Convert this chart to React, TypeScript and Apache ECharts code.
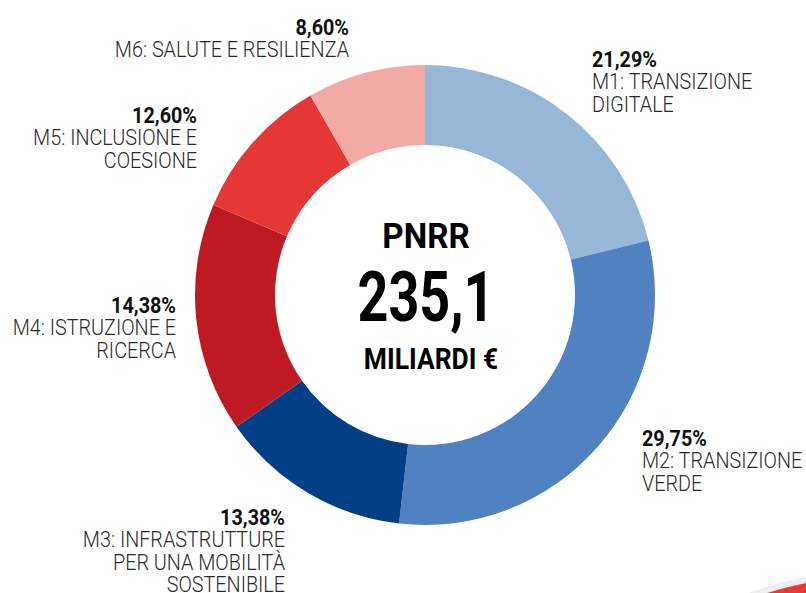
import React, { useEffect, useRef } from "react";
import * as echarts from "echarts";

const missionNames = [
  "M1: TRANSIZIONE\nDIGITALE",
  "M2: TRANSIZIONE\nVERDE",
  "M3: INFRASTRUTTURE\nPER UNA MOBILITÀ\nSOSTENIBILE",
  "M4: ISTRUZIONE E\nRICERCA",
  "M5: INCLUSIONE E\nCOESIONE",
  "M6: SALUTE E RESILIENZA",
];
// percentages printed on the labels
const missionPctLabels = ["21,29%", "29,75%", "13,38%", "14,38%", "12,60%", "8,60%"];
const missionSlices = [21.2, 30.6, 13.5, 16.1, 10.3, 8.3];
const missionColors = ["#97b7d8", "#5081c0", "#023f87", "#bd1a24", "#e73838", "#f1aaa4"];
const centerTitle = "PNRR";
const centerValue = "235,1";
const centerUnit = "MILIARDI €";

// label anchors (text layout only)
const labelAnchors: { x: number; y: number; align: "left" | "right" }[] = [
  { x: 592, y: 48, align: "left" },
  { x: 642, y: 427, align: "left" },
  { x: 285, y: 506, align: "right" },
  { x: 176, y: 294, align: "right" },
  { x: 197, y: 104, align: "right" },
  { x: 349, y: 16, align: "right" },
];

export default function App() {
  const ref = useRef<HTMLDivElement>(null);
  useEffect(() => {
    document.body.style.margin = "0";
    if (!ref.current) return;
    const chart = echarts.init(ref.current, null, { renderer: "svg" });
    const cond = 0.9;
    const labelTexts = missionNames.map((name, i) => ({
      type: "text",
      x: labelAnchors[i].x,
      y: labelAnchors[i].y,
      scaleX: cond,
      style: {
        text: `{p|${missionPctLabels[i]}}\n{n|${name}}`,
        align: labelAnchors[i].align,
        verticalAlign: "top",
        rich: {
          p: { fontFamily: "Roboto", fontWeight: "bold", fontSize: 22, lineHeight: 22.5, fill: "#111", align: labelAnchors[i].align },
          n: { fontFamily: "Roboto", fontWeight: 300, fontSize: 22, lineHeight: 22.5, fill: "#2a2a2a", align: labelAnchors[i].align },
        },
      },
    }));
    const option: any = {
      animation: false,
      backgroundColor: "#ffffff",
      series: [
        {
          type: "pie",
          center: [425, 295],
          radius: [150, 230],
          startAngle: 90,
          clockwise: true,
          label: { show: false },
          labelLine: { show: false },
          emphasis: { disabled: true },
          data: missionNames.map((n, i) => ({
            name: n,
            value: missionSlices[i],
            itemStyle: { color: missionColors[i] },
          })),
        },
      ],
      graphic: [
        ...labelTexts,
        {
          type: "text",
          x: 426,
          y: 236,
          scaleX: 0.95,
          style: { text: centerTitle, align: "center", verticalAlign: "middle", fontFamily: "Roboto", fontWeight: "bold", fontSize: 35, fill: "#000" },
        },
        {
          type: "text",
          x: 426,
          y: 297,
          scaleX: 0.77,
          style: { text: centerValue, align: "center", verticalAlign: "middle", fontFamily: "Roboto", fontWeight: "bold", fontSize: 70, fill: "#000" },
        },
        {
          type: "text",
          x: 431,
          y: 359,
          scaleX: 0.88,
          style: { text: centerUnit, align: "center", verticalAlign: "middle", fontFamily: "Roboto", fontWeight: "bold", fontSize: 30, fill: "#000" },
        },
        {
          type: "circle",
          shape: { cx: 886, cy: 972, r: 400 },
          style: { fill: "#e63a3a", stroke: "#eeeeee", lineWidth: 6 },
        },
      ],
    };
    chart.setOption(option);
    return () => chart.dispose();
  }, []);
  return <div ref={ref} style={{ width: 806, height: 593 }} />;
}
